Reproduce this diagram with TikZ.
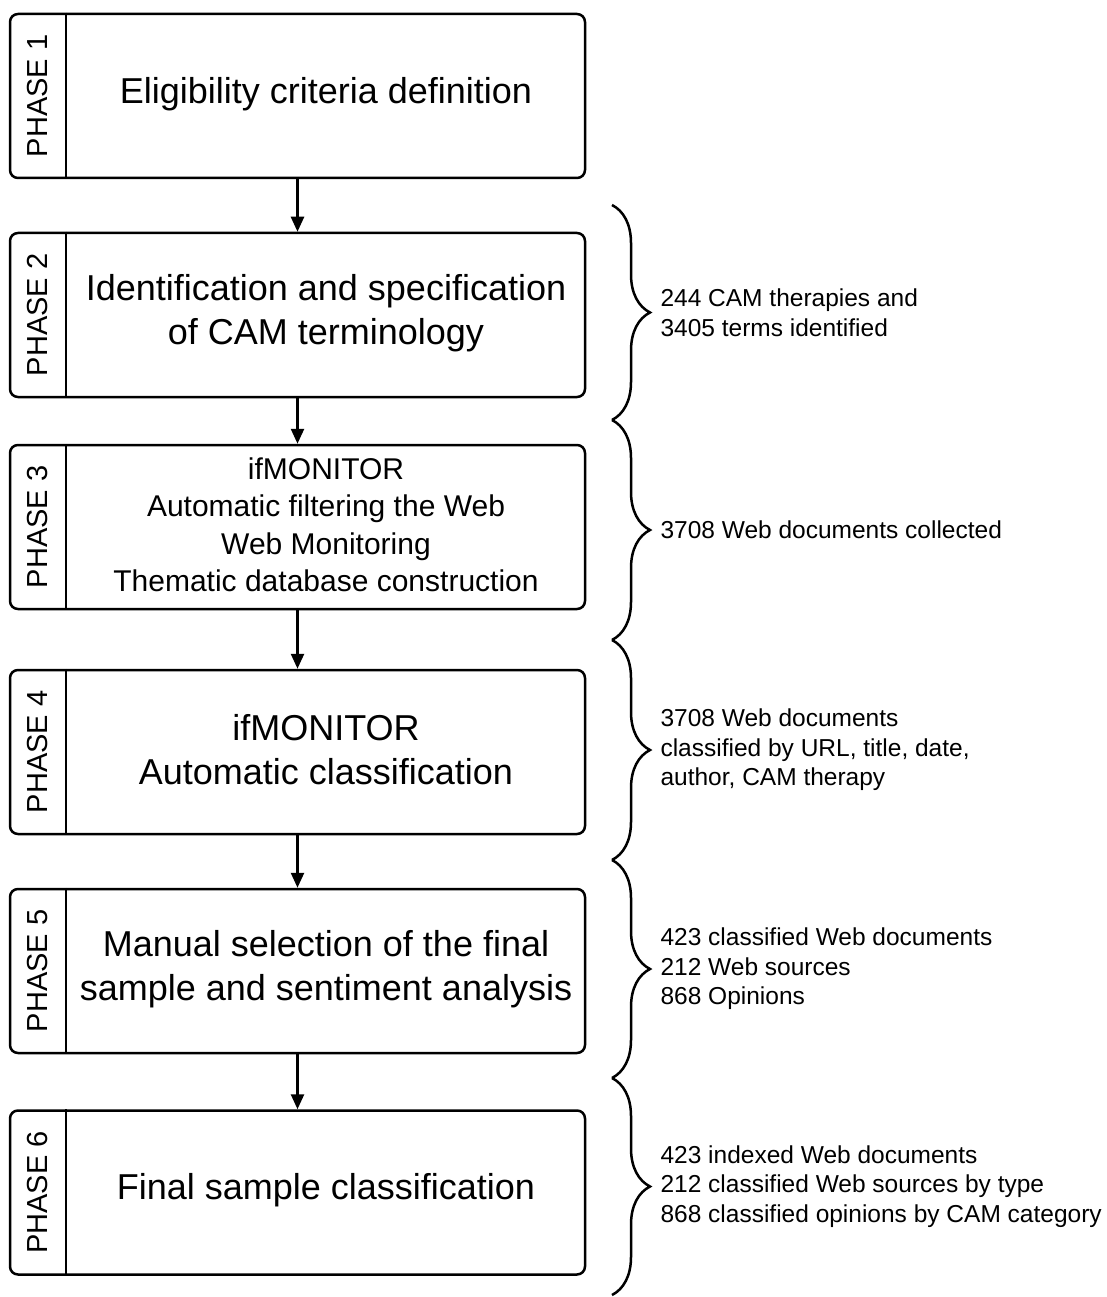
\documentclass[tikz,border=0pt]{standalone}
\usepackage{fontspec}
\setmainfont{Liberation Sans}
\usetikzlibrary{arrows.meta,positioning,decorations.pathreplacing,calc}
\tikzset{>={Triangle[length=15pt,width=13pt]},
          phase/.style={draw,line width=2.5pt,rounded corners=8pt,
            minimum width=575pt,minimum height=164pt,inner sep=0pt},
          tag/.style={rotate=90,font=\fontsize{29}{35}\selectfont},
          title/.style={align=center,font=\fontsize{36}{44}\selectfont},
          titlesmall/.style={align=center,font=\fontsize{30}{37.5}\selectfont},
          note/.style={anchor=west,align=left,font=\fontsize{24.5}{29.5}\selectfont},
          bracket/.style={decorate,decoration={brace,amplitude=38pt},line width=2.5pt},
          link/.style={->,line width=2.5pt}
        }
\newcommand\PhaseBox[4]{%
          \node[phase] (ph#1) at (297.5,#2) {};
          \draw[line width=2.5pt] ([xshift=57pt]ph#1.north west)
            -- ([xshift=57pt]ph#1.south west);
          \node[tag] (tag#1) at ($(ph#1.west)+(28.5,0)$) {PHASE #1};
          \node[#3] (txt#1) at ($(ph#1.center)+(28.5,-2)$) {#4};
        }
\newcommand\NoteBrace[4]{%
          \coordinate (bt#1) at (612,#2);
          \coordinate (bb#1) at (612,#3);
          \draw[bracket] (bt#1) -- (bb#1);
          \node[note] (note#1) at ($(bt#1)!0.5!(bb#1)+(45,0)$) {#4};
        }
\begin{document}
\begin{tikzpicture}[x=1pt,y=-1pt]
            \useasboundingbox (0,0) rectangle (1106,1297);

            \PhaseBox{1}{96}{title}{Eligibility criteria definition}
            \PhaseBox{2}{315}{title}{Identification and specification\\of CAM terminology}
            \PhaseBox{3}{527}{titlesmall}{ifMONITOR\\Automatic filtering the Web\\Web Monitoring\\Thematic database construction}
            \PhaseBox{4}{752}{title}{ifMONITOR\\Automatic classification}
            \PhaseBox{5}{971}{title}{Manual selection of the final\\sample and sentiment analysis}
            \PhaseBox{6}{1192.5}{title}{Final sample classification}

            \draw[link] (ph1) -- (ph2);
            \draw[link] (ph2) -- (ph3);
            \draw[link] (ph3) -- (ph4);
            \draw[link] (ph4) -- (ph5);
            \draw[link] (ph5) -- (ph6);

            % results of each phase
            \NoteBrace{2}{205}{420}{244 CAM therapies and\\3405 terms identified}
            \NoteBrace{3}{420}{640}{3708 Web documents collected}
            \NoteBrace{4}{640}{860}{3708 Web documents\\classified by URL, title, date,\\author, CAM therapy}
            \NoteBrace{5}{860}{1078}{423 classified Web documents\\212 Web sources\\868 Opinions}
            \NoteBrace{6}{1078}{1295}{423 indexed Web documents\\212 classified Web sources by type\\868 classified opinions by CAM category}
          \end{tikzpicture}
\end{document}
